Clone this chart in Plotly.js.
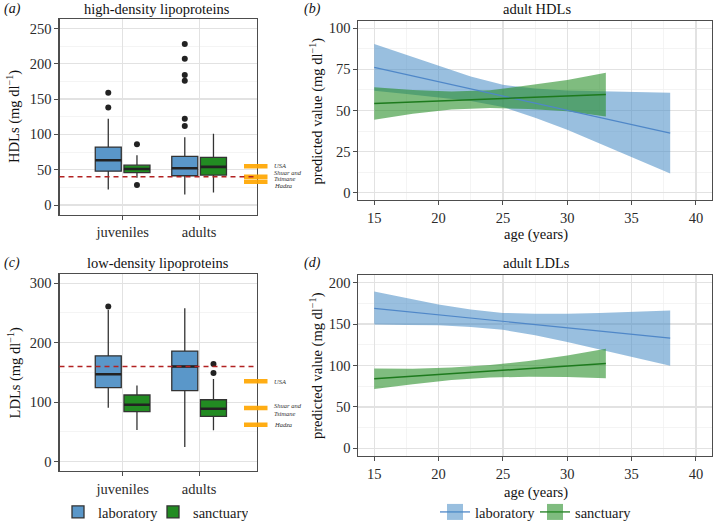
<!DOCTYPE html>
<html>
<head>
<meta charset="utf-8">
<script src="https://cdn.plot.ly/plotly-3.0.1.min.js"></script>
<style>
html,body{margin:0;padding:0;background:#fff}
#chart{width:713px;height:528px}
#chart svg text, #chart svg tspan{font-family:'Liberation Serif','Times New Roman',serif !important;}
</style>
</head>
<body>
<div id="chart"></div>
<script>
// ---------- categories ----------
const ageGroups = ['juveniles', 'adults'];
const sites = ['laboratory', 'sanctuary'];

// ---------- (a) HDL box statistics [juveniles, adults] ----------
const hdlLabQ1 = [48, 41.5];
const hdlLabMedian = [63.5, 52];
const hdlLabQ3 = [82, 69];
const hdlLabLowerFence = [22, 15];
const hdlLabUpperFence = [122, 96];
const hdlSanQ1 = [45.8, 42.5];
const hdlSanMedian = [51, 54];
const hdlSanQ3 = [56.5, 67.5];
const hdlSanLowerFence = [38.8, 17.8];
const hdlSanUpperFence = [70.5, 101];
const hdlLabOutliersJuv = [159, 138];
const hdlLabOutliersAdult = [228, 207, 184, 176, 122, 112];
const hdlSanOutliersJuv = [86, 28.5];
const hdlSanOutliersAdult = [];

// ---------- (c) LDL box statistics [juveniles, adults] ----------
const ldlLabQ1 = [124.4, 119.4];
const ldlLabMedian = [147, 160];
const ldlLabQ3 = [178, 186];
const ldlLabLowerFence = [90.5, 24.4];
const ldlLabUpperFence = [255, 257.8];
const ldlSanQ1 = [84, 76];
const ldlSanMedian = [95.6, 89];
const ldlSanQ3 = [112, 104];
const ldlSanLowerFence = [53, 52.8];
const ldlSanUpperFence = [128, 139];
const ldlLabOutliersJuv = [261];
const ldlLabOutliersAdult = [];
const ldlSanOutliersJuv = [];
const ldlSanOutliersAdult = [164, 149];

// ---------- reference values ----------
const hdlThreshold = 40;
const ldlThreshold = 160;
const populations = ['USA', 'Shuar and Tsimane', 'Hadza'];
const hdlPopulationValues = [55, 40, 33];
const ldlPopulationValues = [135, 90, 62];

// ---------- (b) adult HDL predictions ----------
const hdlLabAge = [15, 17.5, 20, 22.5, 25, 27.5, 30, 32.5, 35, 38];
const hdlLabFit = [76.2, 71.9, 67.5, 63.2, 58.9, 54.5, 50.2, 45.9, 41.5, 36.3];
const hdlLabUpper = [90.4, 83.8, 77.3, 70.6, 65.6, 63.4, 62.1, 61.6, 61.2, 60.8];
const hdlLabLower = [62.0, 60.0, 57.7, 55.8, 52.2, 45.6, 38.3, 30.2, 21.8, 11.8];
const hdlSanAge = [15, 18, 21, 24, 27, 30, 33];
const hdlSanFit = [54.3, 55.2, 56.1, 57.0, 57.9, 58.8, 59.7];
const hdlSanUpper = [64.2, 62.4, 61.5, 62.3, 65.3, 68.5, 73.0];
const hdlSanLower = [44.4, 48.0, 50.6, 51.5, 51.0, 49.5, 46.4];

// ---------- (d) adult LDL predictions ----------
const ldlLabAge = [15, 17.5, 20, 22.5, 25, 27.5, 30, 32.5, 35, 38];
const ldlLabFit = [168.9, 165.0, 161.1, 157.2, 153.3, 149.4, 145.5, 141.5, 137.6, 133.1];
const ldlLabUpper = [189.2, 181.0, 173.5, 167.5, 163.5, 162.5, 162.5, 163.5, 165.0, 166.5];
const ldlLabLower = [149.4, 149.0, 148.5, 146.5, 143.0, 136.5, 128.5, 119.5, 110.5, 99.6];
const ldlSanAge = [15, 18, 21, 24, 27, 30, 33];
const ldlSanFit = [84.1, 87.2, 90.2, 93.3, 96.3, 99.4, 102.4];
const ldlSanUpper = [96.5, 96.0, 97.5, 100.5, 105.5, 112.0, 120.3];
const ldlSanLower = [71.5, 77.5, 82.5, 85.5, 86.5, 86.0, 84.5];

// ---------- style ----------
const FONT = "Liberation Serif, Times New Roman, serif";
const W = 713, H = 528;
const LAB_BOX = '#5A97C9', SAN_BOX = '#228B22';
const LAB_BAND = 'rgba(70,138,196,0.55)', SAN_BAND = 'rgba(34,139,34,0.58)';
const LAB_LINE = '#4F87C8', SAN_LINE = '#1D7A1D';
const ORANGE = 'rgba(255,166,0,0.92)';
const DODGE = 0.1875, BOXW = 0.34;
const groupPos = ageGroups.map((g, i) => i + 1);

function px(x) { return x / W; }
function py(y) { return 1 - y / H; }

const traces = [];

function boxTraces(xa, ya, lab, san, outs, showLegend) {
  const sets = [
    {name: sites[0], stats: lab, off: -DODGE, fill: LAB_BOX, outl: outs[0]},
    {name: sites[1], stats: san, off: DODGE, fill: SAN_BOX, outl: outs[1]}
  ];
  sets.forEach(s => {
    const pos = groupPos.map(p => p + s.off);
    traces.push({
      type: 'box', xaxis: xa, yaxis: ya, name: s.name, legend: 'legend',
      showlegend: showLegend, legendgroup: s.name,
      x: pos, q1: s.stats[0], median: s.stats[1], q3: s.stats[2],
      lowerfence: s.stats[3], upperfence: s.stats[4],
      boxpoints: false, width: BOXW, whiskerwidth: 0,
      fillcolor: s.fill, line: {color: '#333333', width: 1.3},
      hoverinfo: 'skip'
    });
    const mx = [], my = [];
    pos.forEach((p, i) => { mx.push(p - BOXW / 2, p + BOXW / 2, null); my.push(s.stats[1][i], s.stats[1][i], null); });
    traces.push({type: 'scatter', mode: 'lines', xaxis: xa, yaxis: ya, x: mx, y: my,
      line: {color: '#222222', width: 2.6}, showlegend: false, hoverinfo: 'skip'});
    const ox = [], oy = [];
    pos.forEach((p, i) => s.outl[i].forEach(v => { ox.push(p); oy.push(v); }));
    traces.push({type: 'scatter', mode: 'markers', xaxis: xa, yaxis: ya, x: ox, y: oy,
      marker: {color: '#222222', size: 6}, showlegend: false, hoverinfo: 'skip', cliponaxis: false});
  });
}

boxTraces('x', 'y',
  [hdlLabQ1, hdlLabMedian, hdlLabQ3, hdlLabLowerFence, hdlLabUpperFence],
  [hdlSanQ1, hdlSanMedian, hdlSanQ3, hdlSanLowerFence, hdlSanUpperFence],
  [[hdlLabOutliersJuv, hdlLabOutliersAdult], [hdlSanOutliersJuv, hdlSanOutliersAdult]], true);
boxTraces('x3', 'y3',
  [ldlLabQ1, ldlLabMedian, ldlLabQ3, ldlLabLowerFence, ldlLabUpperFence],
  [ldlSanQ1, ldlSanMedian, ldlSanQ3, ldlSanLowerFence, ldlSanUpperFence],
  [[ldlLabOutliersJuv, ldlLabOutliersAdult], [ldlSanOutliersJuv, ldlSanOutliersAdult]], false);

function bandTrace(xa, ya, age, up, lo, color) {
  return {type: 'scatter', mode: 'lines', xaxis: xa, yaxis: ya,
    x: age.concat(age.slice().reverse()), y: up.concat(lo.slice().reverse()),
    fill: 'toself', fillcolor: color, line: {width: 0},
    showlegend: false, hoverinfo: 'skip'};
}
function fitTrace(xa, ya, age, fit, color, w) {
  return {type: 'scatter', mode: 'lines', xaxis: xa, yaxis: ya, x: age, y: fit,
    line: {color: color, width: w}, showlegend: false, hoverinfo: 'skip'};
}
traces.push(bandTrace('x2', 'y2', hdlLabAge, hdlLabUpper, hdlLabLower, LAB_BAND));
traces.push(bandTrace('x2', 'y2', hdlSanAge, hdlSanUpper, hdlSanLower, SAN_BAND));
traces.push(fitTrace('x2', 'y2', hdlLabAge, hdlLabFit, LAB_LINE, 1.2));
traces.push(fitTrace('x2', 'y2', hdlSanAge, hdlSanFit, SAN_LINE, 1.5));
traces.push(bandTrace('x4', 'y4', ldlLabAge, ldlLabUpper, ldlLabLower, LAB_BAND));
traces.push(bandTrace('x4', 'y4', ldlSanAge, ldlSanUpper, ldlSanLower, SAN_BAND));
traces.push(fitTrace('x4', 'y4', ldlLabAge, ldlLabFit, LAB_LINE, 1.2));
traces.push(fitTrace('x4', 'y4', ldlSanAge, ldlSanFit, SAN_LINE, 1.5));

[[sites[0], LAB_BAND, LAB_LINE], [sites[1], SAN_BAND, SAN_LINE]].forEach(e => {
  traces.push({type: 'scatter', mode: 'lines+markers', xaxis: 'x2', yaxis: 'y2', x: [null], y: [null],
    name: e[0], legend: 'legend2', showlegend: true,
    marker: {symbol: 'square', size: 16, color: e[1], line: {width: 0}},
    line: {color: e[2], width: 1.3}});
});

const tickfont = {family: FONT, size: 14.5, color: '#2b2b2b'};
const frame = {showline: true, mirror: true, linecolor: '#4d4d4d', linewidth: 1.1,
  ticks: 'outside', ticklen: 4, tickcolor: '#4d4d4d', tickwidth: 1,
  showgrid: true, gridcolor: '#e2e2e2', gridwidth: 1.2, zeroline: false,
  tickfont: tickfont, fixedrange: true};
const minorGrid = (d, t0) => ({dtick: d, tick0: t0, showgrid: true, gridcolor: '#efefef', gridwidth: 0.7, ticks: ''});

const xLeft = [px(59.5), px(256.5)];
const xRight = [px(358.4), px(712)];
const legendFont = {family: FONT, size: 14.5, color: '#1a1a1a'};

const layout = {
  width: W, height: H, margin: {l: 0, r: 0, t: 0, b: 0},
  paper_bgcolor: '#ffffff', plot_bgcolor: '#ffffff',
  font: {family: FONT, color: '#1a1a1a', size: 14.5},
  boxmode: 'overlay', showlegend: true,
  xaxis: Object.assign({}, frame, {domain: xLeft, anchor: 'y', range: [0.175, 2.75],
    tickvals: groupPos, ticktext: ageGroups}),
  yaxis: Object.assign({}, frame, {domain: [py(217), py(19)], anchor: 'x', range: [-14, 263.6],
    tick0: 0, dtick: 50, minor: minorGrid(25, 0)}),
  xaxis2: Object.assign({}, frame, {domain: xRight, anchor: 'y2', range: [13.77, 41.25],
    tick0: 15, dtick: 5, minor: minorGrid(2.5, 15)}),
  yaxis2: Object.assign({}, frame, {domain: [py(202.3), py(21.7)], anchor: 'x2', range: [-4.6, 104.1],
    tick0: 0, dtick: 25, minor: minorGrid(12.5, 0)}),
  xaxis3: Object.assign({}, frame, {domain: xLeft, anchor: 'y3', range: [0.175, 2.75],
    tickvals: groupPos, ticktext: ageGroups}),
  yaxis3: Object.assign({}, frame, {domain: [py(475.7), py(276.7)], anchor: 'x3', range: [-16.2, 315.5],
    tick0: 0, dtick: 100, minor: minorGrid(50, 0)}),
  xaxis4: Object.assign({}, frame, {domain: xRight, anchor: 'y4', range: [13.77, 41.25],
    tick0: 15, dtick: 5, minor: minorGrid(2.5, 15)}),
  yaxis4: Object.assign({}, frame, {domain: [py(460.7), py(277.3)], anchor: 'x4', range: [-9.6, 209.6],
    tick0: 0, dtick: 50, minor: minorGrid(25, 0)}),
  legend: {orientation: 'h', x: px(153), xanchor: 'center', y: py(517), yanchor: 'middle',
    font: legendFont, bgcolor: 'rgba(0,0,0,0)', itemwidth: 30, entrywidth: 50},
  legend2: {orientation: 'h', x: px(535), xanchor: 'center', y: py(517), yanchor: 'middle',
    font: legendFont, bgcolor: 'rgba(0,0,0,0)', itemwidth: 30, entrywidth: 55},
  shapes: [], annotations: []
};

// population reference bars, their labels, and threshold lines
function refMarks(yref, values, threshold, lineShifts) {
  values.forEach((v, i) => {
    layout.shapes.push({type: 'line', xref: 'paper', yref: yref, x0: px(244), x1: px(267.5), y0: v, y1: v,
      line: {color: ORANGE, width: 4.5}, layer: 'above'});
    const lines = populations[i].replace(' and ', ' and\n').split('\n');
    lines.forEach((t, j) => {
      layout.annotations.push({xref: 'paper', yref: yref, x: px(272), y: v, yshift: lineShifts[i][j],
        text: t, showarrow: false, xanchor: 'left', yanchor: 'middle', align: 'left',
        font: {family: FONT, size: 6.5, style: 'italic', color: '#333333'}});
    });
  });
  layout.shapes.push({type: 'line', xref: yref === 'y' ? 'x domain' : 'x3 domain', yref: yref,
    x0: 0, x1: 1, y0: threshold, y1: threshold,
    line: {color: '#B22222', width: 1.5, dash: '5px,4px'}, layer: 'above'});
}
refMarks('y', hdlPopulationValues, hdlThreshold, [[0.5], [4.5, -1.8], [-3.3]]);
refMarks('y3', ldlPopulationValues, ldlThreshold, [[-0.5], [3, -5], [0]]);

function addText(text, x, y, opts) {
  layout.annotations.push(Object.assign({xref: 'paper', yref: 'paper', x: px(x), y: py(y), text: text,
    showarrow: false, xanchor: 'center', yanchor: 'middle',
    font: {family: FONT, size: 14.5, color: '#111111'}}, opts || {}));
}
addText('high-density lipoproteins', 157, 9.5);
addText('adult HDLs', 536.5, 9.5);
addText('low-density lipoproteins', 157.5, 265.5);
addText('adult LDLs', 536, 266);
const tagFont = {family: FONT, size: 14, style: 'italic', color: '#111111'};
addText('(a)', 2, 9.5, {xanchor: 'left', font: tagFont});
addText('(b)', 302, 9.5, {xanchor: 'left', font: tagFont});
addText('(c)', 2, 265.5, {xanchor: 'left', font: tagFont});
addText('(d)', 302, 266, {xanchor: 'left', font: tagFont});
addText('HDLs (mg dl<sup>−1</sup>)', 14, 118, {textangle: -90});
addText('LDLs (mg dl<sup>−1</sup>)', 14, 376, {textangle: -90});
addText('predicted value (mg dl<sup>−1</sup>)', 316.5, 112, {textangle: -90});
addText('predicted value (mg dl<sup>−1</sup>)', 316.5, 369, {textangle: -90});
addText('age (years)', 536, 237);
addText('age (years)', 536, 497);

Plotly.newPlot('chart', traces, layout, {staticPlot: true, displayModeBar: false});
</script>
</body>
</html>
